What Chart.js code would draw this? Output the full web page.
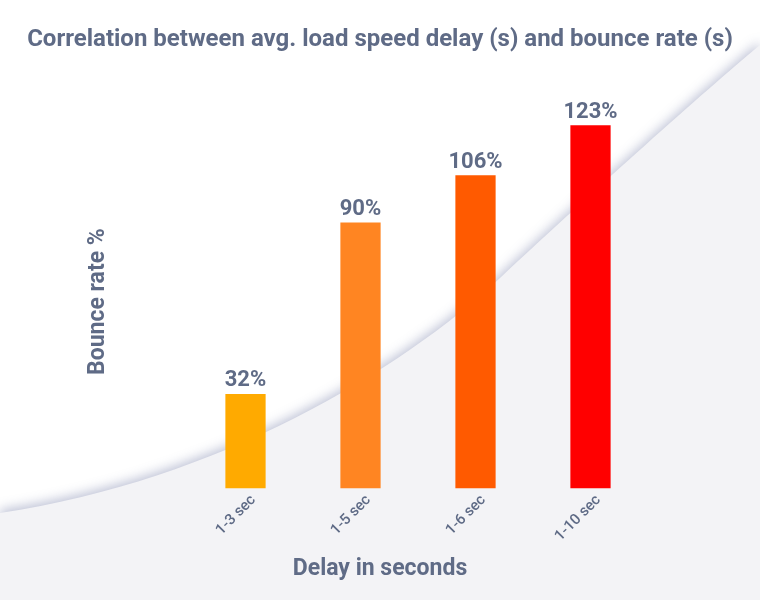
<!DOCTYPE html>
<html>
<head>
<meta charset="utf-8">
<script src="https://cdn.jsdelivr.net/npm/chart.js@4"></script>
<style>
  body { margin: 0; background: #fff; }
  canvas { display: block; }
</style>
</head>
<body>
<canvas id="myChart" width="760" height="600"></canvas>
<script>
// 데이터
const delayLabels = ['1-3 sec', '1-5 sec', '1-6 sec', '1-10 sec'];
const bounceRates = [32, 90, 106, 123];
const barColors = ['#FFAA00', '#FF8522', '#FF5A00', '#FF0000'];

const textColor = '#5f6b86';

// 배경 곡선 (장식)
const bgCurve = {
    id: 'bgCurve',
    beforeDraw(chart) {
        const c = chart.ctx;
        c.save();
        c.fillStyle = '#fff';
        c.fillRect(0, 0, chart.width, chart.height);
        c.beginPath();
        c.moveTo(0, 513);
        c.bezierCurveTo(220, 480, 400, 371, 500, 278);
        c.bezierCurveTo(600, 185, 700, 95, 760, 45);
        c.lineTo(760, 600);
        c.lineTo(0, 600);
        c.closePath();
        c.shadowColor = 'rgba(90, 100, 150, 0.4)';
        c.shadowBlur = 12;
        c.shadowOffsetY = -3;
        c.fillStyle = '#f3f3f6';
        c.fill();
        c.restore();
    }
};

// 막대 위 값 표시
const valueLabels = {
    id: 'valueLabels',
    afterDatasetsDraw(chart) {
        const c = chart.ctx;
        const meta = chart.getDatasetMeta(0);
        c.save();
        c.font = 'bold 22px Roboto';
        c.fillStyle = textColor;
        c.textAlign = 'center';
        c.textBaseline = 'bottom';
        meta.data.forEach((bar, i) => {
            c.fillText(bounceRates[i] + '%', bar.x, bar.y - 2);
        });
        c.restore();
    }
};

const ctx = document.getElementById('myChart').getContext('2d');
const myChart = new Chart(ctx, {
    type: 'bar',
    data: {
        labels: delayLabels,
        datasets: [{
            data: bounceRates,
            backgroundColor: barColors,
            barPercentage: 0.35,
            categoryPercentage: 1
        }]
    },
    options: {
        responsive: false,
        maintainAspectRatio: false,
        animation: false,
        layout: { padding: { left: 0, right: 0, top: 0, bottom: 17 } },
        plugins: {
            legend: { display: false },
            tooltip: { enabled: false },
            title: {
                display: true,
                text: 'Correlation between avg. load speed delay (s) and bounce rate (s)',
                color: textColor,
                font: { family: 'Roboto', size: 24, weight: 'bold' },
                padding: { top: 26, bottom: 60 }
            },
            subtitle: {
                display: true,
                position: 'bottom',
                text: 'Delay in seconds',
                color: textColor,
                font: { family: 'Roboto', size: 23, weight: 'bold' },
                padding: { top: 12, bottom: 0 }
            }
        },
        scales: {
            x: {
                grid: { display: false },
                border: { display: false },
                ticks: {
                    color: textColor,
                    font: { family: 'Roboto', size: 15, weight: '500' },
                    minRotation: 45,
                    maxRotation: 45,
                    padding: -5,
                    labelOffset: 8
                },
                afterFit: (s) => { s.height = 55; }
            },
            y: {
                min: 0,
                max: 126.5,
                grid: { display: false },
                border: { display: false },
                ticks: { display: false },
                title: {
                    display: true,
                    text: 'Bounce rate %',
                    color: textColor,
                    font: { family: 'Roboto', size: 23, weight: 'bold' },
                    padding: { top: 84, bottom: 0 }
                },
                afterFit: (s) => { s.width = 188; }
            },
            yRight: {
                position: 'right',
                grid: { display: false },
                border: { display: false },
                ticks: { display: false },
                afterFit: (s) => { s.width = 112; }
            }
        }
    },
    plugins: [bgCurve, valueLabels]
});
</script>
</body>
</html>
